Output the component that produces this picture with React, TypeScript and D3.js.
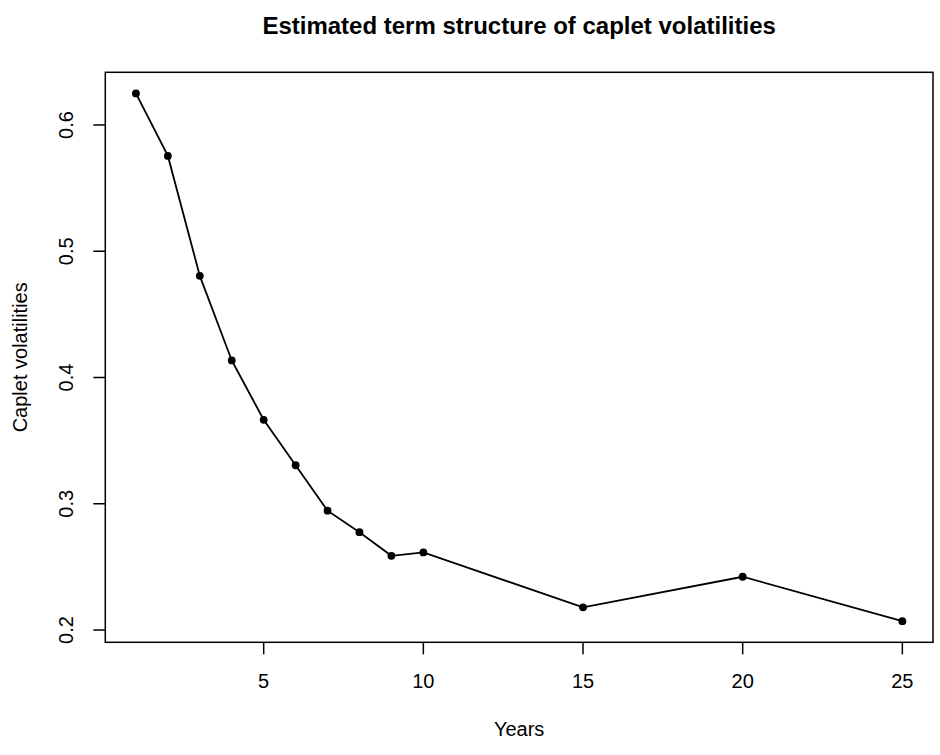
import React from "react";
import * as d3 from "d3";

const years = [1, 2, 3, 4, 5, 6, 7, 8, 9, 10, 15, 20, 25];
const vols = [0.625, 0.5755, 0.4805, 0.4135, 0.3665, 0.3305, 0.2945, 0.2775, 0.2588, 0.2615, 0.218, 0.2422, 0.207];
const xTicks = [5, 10, 15, 20, 25];
const yTicks = [0.2, 0.3, 0.4, 0.5, 0.6];

const W = 940;
const H = 755;
const M = { left: 105.3, right: 933, top: 72.3, bottom: 642.3 };
const FONT = "'Liberation Sans', Arial, Helvetica, sans-serif";

function ext([a, b]: [number, number]): [number, number] {
  const d = (b - a) * 0.04;
  return [a - d, b + d];
}

export default function App() {
  const x = d3.scaleLinear().domain(ext(d3.extent(years) as [number, number])).range([M.left, M.right]);
  const y = d3.scaleLinear().domain(ext(d3.extent(vols) as [number, number])).range([M.bottom, M.top]);
  const line = d3
    .line<number>()
    .x((_, i) => x(years[i]))
    .y((d) => y(d));
  const fs = 20;
  return (
    <svg width={W} height={H} style={{ position: "absolute", left: 0, top: 0, background: "#fff" }} fontFamily={FONT}>
      <rect x={0} y={0} width={W} height={H} fill="#fff" />
      <text x={(M.left + M.right) / 2} y={33.5} textAnchor="middle" fontWeight="bold" fontSize={24}>
        Estimated term structure of caplet volatilities
      </text>
      <rect x={M.left} y={M.top} width={M.right - M.left} height={M.bottom - M.top} fill="none" stroke="#000" strokeWidth={1.5} />
      {xTicks.map((t) => (
        <g key={"x" + t}>
          <line x1={x(t)} x2={x(t)} y1={M.bottom} y2={M.bottom + 12} stroke="#000" strokeWidth={1.5} />
          <text x={x(t)} y={688} textAnchor="middle" fontSize={fs}>
            {t}
          </text>
        </g>
      ))}
      {yTicks.map((t) => (
        <g key={"y" + t}>
          <line x1={M.left} x2={M.left - 12} y1={y(t)} y2={y(t)} stroke="#000" strokeWidth={1.5} />
          <text transform={`translate(73,${y(t)}) rotate(-90)`} textAnchor="middle" fontSize={fs}>
            {t.toFixed(1)}
          </text>
        </g>
      ))}
      <text x={(M.left + M.right) / 2} y={736} textAnchor="middle" fontSize={fs}>
        Years
      </text>
      <text transform={`translate(27,${(M.top + M.bottom) / 2}) rotate(-90)`} textAnchor="middle" fontSize={fs}>
        Caplet volatilities
      </text>
      <path d={line(vols) || ""} fill="none" stroke="#000" strokeWidth={1.8} />
      {vols.map((v, i) => (
        <circle key={i} cx={x(years[i])} cy={y(v)} r={3.9} fill="#000" />
      ))}
    </svg>
  );
}
